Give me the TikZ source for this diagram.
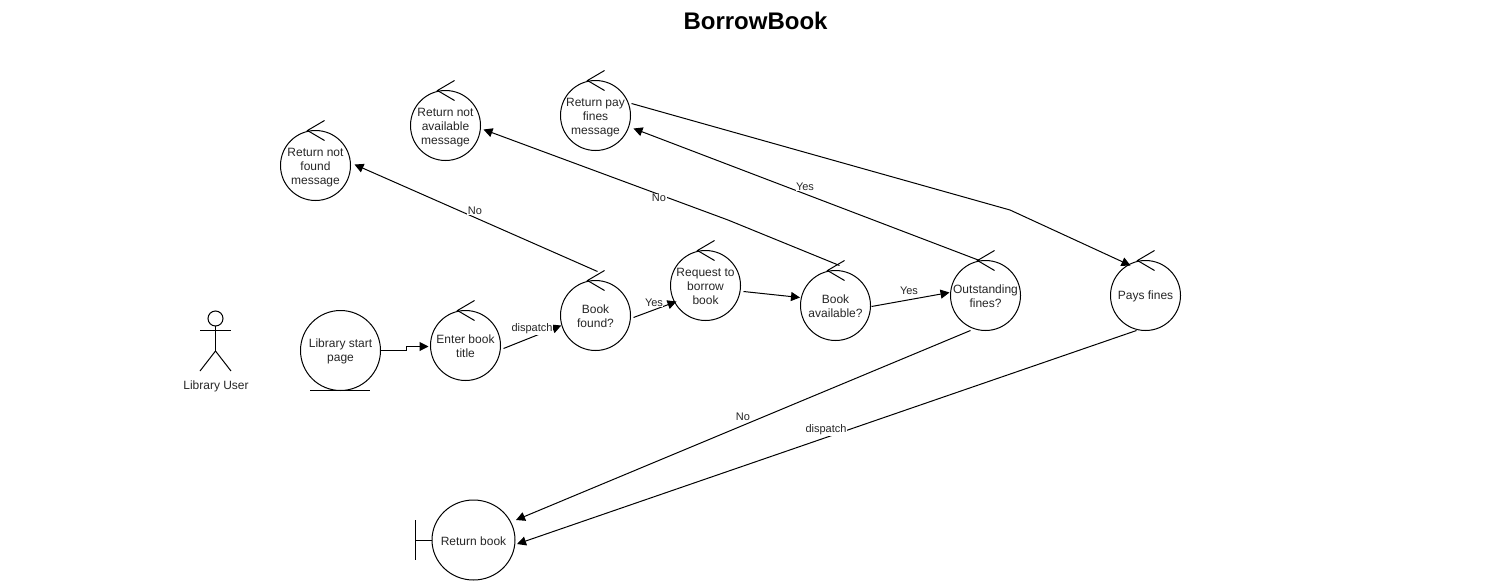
\documentclass[tikz,border=0pt]{standalone}
\usepackage{fontspec}
\setmainfont{Liberation Sans}
\usetikzlibrary{calc,arrows.meta,shapes.geometric}
\tikzset{
  every path/.style={line width=1pt},
  txt/.style={align=center,inner sep=0pt,yshift=-1pt,text=black!85,font=\fontsize{12}{14}\selectfont},
  txtd/.style={txt,yshift=-1pt},
  bub/.style={draw,circle,minimum size=70pt,inner sep=0pt,outer sep=0pt},
  flow/.style={-{Triangle[length=9pt,width=9pt]}},
  elabel/.style={fill=white,inner sep=0.5pt,text=black!85,font=\fontsize{11}{13}\selectfont},
}
\begin{document}
\begin{tikzpicture}[x=1pt,y=-1pt]
\useasboundingbox (0,0) rectangle (1511,581);
\node[font=\bfseries\fontsize{24}{28}\selectfont] (title) at (755.5,21) {BorrowBook};

% actor
\node[draw,circle,minimum size=15pt,inner sep=0pt,outer sep=0pt] (head) at (215.5,318.5) {};
\coordinate (hip) at (215.5,351);
\coordinate (armL) at (200,330);
\coordinate (armR) at (231,330);
\coordinate (legL) at (200,371);
\coordinate (legR) at (231,371);
\draw (head.south) -- (hip);
\draw (armL) -- (armR);
\draw (legL) -- (hip) -- (legR);
\node[txt] (actor) at (216,385) {Library User};

% entity
\node[bub,minimum size=80pt,label={[txt]center:Library start\\page}] (start) at (340.5,350.5) {};
\coordinate (ul) at (310,390.5);
\coordinate (ur) at (370,390.5);
\draw (ul) -- (ur);

% controllers
\node[bub,label={[txt]center:Enter book\\title}] (enter) at (465.5,345.5) {};
\node[bub,label={[txt]center:Book\\found?}] (found) at (595.5,315.5) {};
\node[bub,label={[txt]center:Request to\\borrow\\book}] (req) at (705.5,285.5) {};
\node[bub,label={[txt]center:Book\\available?}] (avail) at (835.5,305.5) {};
\node[bub,label={[txt]center:Outstanding\\fines?}] (out) at (985.5,295.5) {};
\node[bub,label={[txt]center:Pays fines}] (pays) at (1145.5,295.5) {};
\node[bub,label={[txtd]center:Return not\\found\\message}] (nf) at (315.5,165.5) {};
\node[bub,label={[txtd]center:Return not\\available\\message}] (na) at (445.5,125.5) {};
\node[bub,label={[txtd]center:Return pay\\fines\\message}] (rp) at (595.5,115.5) {};
\foreach \n in {enter,found,req,avail,out,pays,nf,na,rp}
  \draw ($(\n.north)+(9,-10)$) -- ($(\n.north)+(-8,0)$) -- ($(\n.north)+(9,10)$);

% boundary
\node[draw,ellipse,minimum width=83pt,minimum height=80pt,inner sep=0pt,outer sep=0pt,label={[txt]center:Return book}] (book) at (473.5,540) {};
\coordinate (bar) at (415.5,540);
\coordinate (barT) at (415.5,520);
\coordinate (barB) at (415.5,560);
\draw (barT) -- (barB);
\draw (bar) -- (book.west);

% connectors
\draw[flow] (start.east) -- ++(26,0) |- ($(enter)+(-37,1)$);
\draw[flow] ($(enter)+(38,3)$) -- ($(found)+(-34.3,10)$);
\draw[flow] ($(found)+(38,2)$) -- ($(req)+(-29,16)$);
\draw[flow] ($(req)+(38,6)$) -- ($(avail)+(-35.5,-8)$);
\draw[flow] ($(avail)+(36,1)$) -- ($(out)+(-36,-3)$);
\draw[flow] ($(found)+(2,-44)$) -- ($(nf)+(39,-1)$);
\coordinate (wa) at (728,220);
\draw[flow] ($(avail)+(4,-40)$) -- (wa) -- ($(na)+(38,4)$);
\draw[flow] ($(out)+(-6,-35)$) -- ($(rp)+(38,13)$);
\coordinate (wb) at (1010,210);
\draw[flow] ($(rp)+(36,-12)$) -- (wb) -- ($(pays)+(-15,-30)$);
\draw[flow] ($(out)+(-15,35)$) -- ($(book)+(42.5,-20)$);
\draw[flow] ($(pays)+(-9,35)$) -- ($(book)+(43.5,4)$);

% connector labels
\node[elabel] (l1) at (532,329) {dispatch};
\node[elabel] (l2) at (654,303) {Yes};
\node[elabel] (l3) at (909,291) {Yes};
\node[elabel] (l4) at (475,211) {No};
\node[elabel] (l5) at (659,198) {No};
\node[elabel] (l6) at (805,187) {Yes};
\node[elabel] (l7) at (743,417) {No};
\node[elabel] (l8) at (826,430) {dispatch};
\end{tikzpicture}
\end{document}
